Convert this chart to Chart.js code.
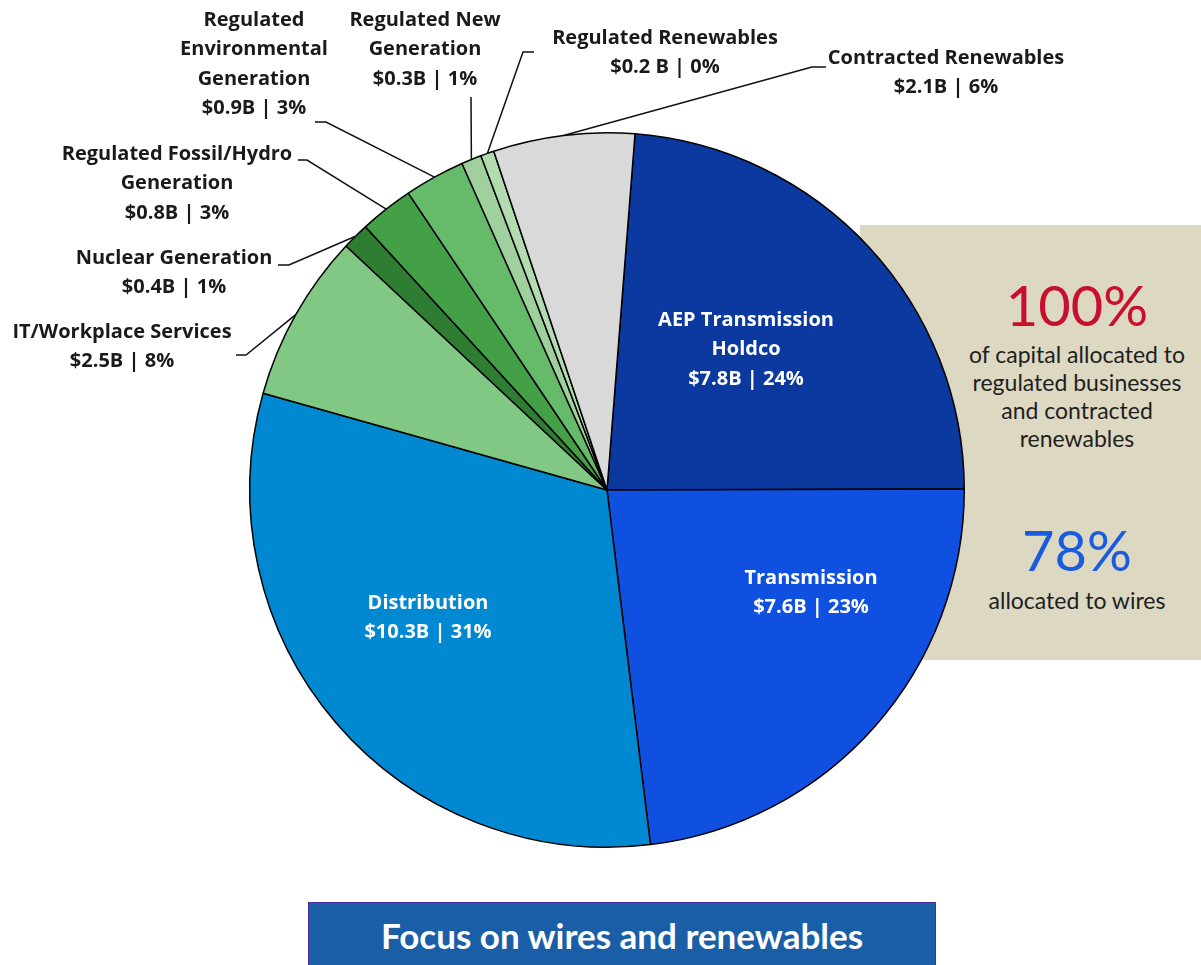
<!DOCTYPE html>
<html>
<head>
<meta charset="utf-8">
<script src="https://cdn.jsdelivr.net/npm/chart.js@4"></script>
<style>
  html, body { margin: 0; padding: 0; background: #fff; }
  body { width: 1201px; height: 965px; position: relative; overflow: hidden; font-family: Lato, "Open Sans", sans-serif; }
  #panel { position: absolute; left: 860px; top: 225px; width: 341px; height: 435px; background: #ddd8c2; }
  #wrap { position: absolute; left: 0; top: 0; width: 1201px; height: 965px; }
  .big { position: absolute; left: 954px; width: 246px; text-align: center; font-size: 56px; line-height: 58px; }
  .note { position: absolute; left: 944px; width: 266px; text-align: center; font-size: 23px; line-height: 28px; color: #1e1e1e; }
  #box { position: absolute; left: 308px; top: 902px; width: 626px; height: 70px; background: #1b5ea8; border: 1px solid #4b2c9c;
         color: #fff; font-weight: bold; font-size: 35px; text-align: center; line-height: 64px; }
</style>
</head>
<body>
<div id="panel"></div>
<div class="big" style="top:276px;color:#c8102e">100%</div>
<div class="note" style="top:340px">of capital allocated to<br>regulated businesses<br>and contracted<br>renewables</div>
<div class="big" style="top:521px;color:#1a5ce0">78%</div>
<div class="note" style="top:586px">allocated to wires</div>
<div id="wrap"><canvas id="chart"></canvas></div>
<div id="box">Focus on wires and renewables</div>
<script>
const categories = ['AEP Transmission Holdco', 'Transmission', 'Distribution', 'IT/Workplace Services',
  'Nuclear Generation', 'Regulated Fossil/Hydro Generation', 'Regulated Environmental Generation',
  'Regulated New Generation', 'Regulated Renewables', 'Contracted Renewables'];
const capitalB = [7.8, 7.6, 10.3, 2.5, 0.4, 0.8, 0.9, 0.3, 0.2, 2.1];
const amountLabels = ['$7.8B', '$7.6B', '$10.3B', '$2.5B', '$0.4B', '$0.8B', '$0.9B', '$0.3B', '$0.2 B', '$2.1B'];
const shareLabels = ['24%', '23%', '31%', '8%', '1%', '3%', '3%', '1%', '0%', '6%'];
const sliceColors = ['#0b39a0', '#0f50e0', '#0088d1', '#80c883', '#2e7d32', '#43a047', '#66bb6a', '#9fd09d', '#b2dcb0', '#d9d9d9'];

// label placement: name lines, centre x, first line y, leader elbow (null = inside)
const labelLayout = [
  { lines: ['AEP Transmission', 'Holdco'], x: 746, y: 320, inside: true },
  { lines: ['Transmission'], x: 811, y: 578, inside: true },
  { lines: ['Distribution'], x: 428, y: 603, inside: true },
  { lines: ['IT/Workplace Services'], x: 122, y: 332, elbow: [[236, 355], [246, 355]] },
  { lines: ['Nuclear Generation'], x: 174, y: 258, elbow: [[278, 265], [289, 265]] },
  { lines: ['Regulated Fossil/Hydro', 'Generation'], x: 177, y: 154, elbow: [[298, 160], [307, 160]] },
  { lines: ['Regulated', 'Environmental', 'Generation'], x: 254, y: 20, elbow: [[315, 122], [326, 122]] },
  { lines: ['Regulated New', 'Generation'], x: 425, y: 20, elbow: [[471, 97]] },
  { lines: ['Regulated Renewables'], x: 665, y: 38, elbow: [[534, 52], [523, 52]] },
  { lines: ['Contracted Renewables'], x: 946, y: 58, elbow: [[826, 67], [812, 67]] }
];

const sliceLabels = {
  id: 'sliceLabels',
  afterDatasetsDraw(chart) {
    const ctx = chart.ctx;
    const arcs = chart.getDatasetMeta(0).data;
    ctx.save();
    ctx.font = 'bold 20px "Open Sans", Lato, sans-serif';
    ctx.textAlign = 'center';
    ctx.textBaseline = 'middle';
    arcs.forEach((arc, i) => {
      const L = labelLayout[i];
      const lines = L.lines.concat([amountLabels[i] + ' | ' + shareLabels[i]]);
      ctx.fillStyle = L.inside ? '#ffffff' : '#1a1a1a';
      lines.forEach((t, k) => ctx.fillText(t, L.x, L.y + k * 29.5));
      if (L.elbow) {
        const mid = (arc.startAngle + arc.endAngle) / 2;
        const px = arc.x + Math.cos(mid) * arc.outerRadius;
        const py = arc.y + Math.sin(mid) * arc.outerRadius;
        ctx.beginPath();
        ctx.strokeStyle = '#111';
        ctx.lineWidth = 1.5;
        ctx.moveTo(L.elbow[0][0], L.elbow[0][1]);
        L.elbow.slice(1).forEach(p => ctx.lineTo(p[0], p[1]));
        ctx.lineTo(px, py);
        ctx.stroke();
      }
    });
    ctx.restore();
  }
};

new Chart(document.getElementById('chart'), {
  type: 'pie',
  data: {
    labels: categories,
    datasets: [{
      data: capitalB,
      backgroundColor: sliceColors,
      borderColor: '#000',
      borderWidth: 1.5
    }]
  },
  options: {
    responsive: true,
    maintainAspectRatio: false,
    animation: false,
    rotation: 4.5,
    layout: { padding: { left: 249, top: 132, right: 236, bottom: 117 } },
    plugins: { legend: { display: false }, tooltip: { enabled: false } }
  },
  plugins: [sliceLabels]
});
</script>
</body>
</html>
